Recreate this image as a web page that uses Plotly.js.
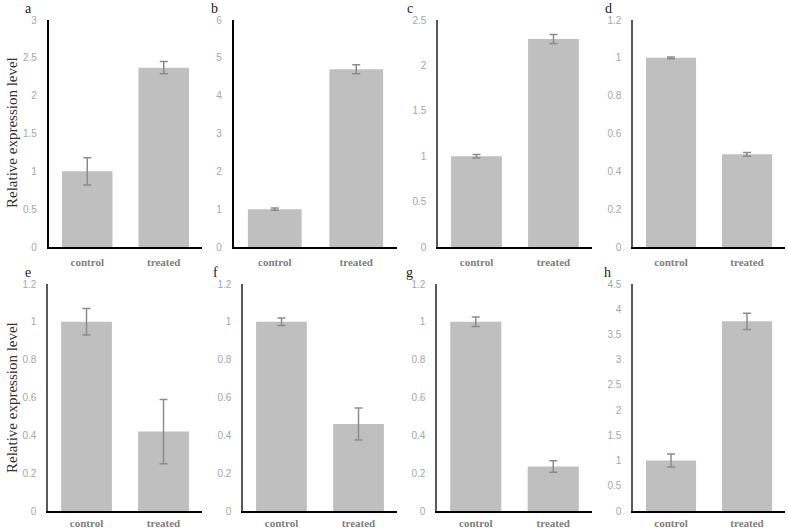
<!DOCTYPE html>
<html>
<head>
<meta charset="utf-8">
<script src="https://cdn.plot.ly/plotly-3.0.1.min.js"></script>
<style>html,body{margin:0;padding:0;background:#fff;}#chart{width:787px;height:532px;}</style>
</head>
<body>
<div id="chart"></div>
<script>
const categories = ['control', 'treated'];
const panelLetters = ['a', 'b', 'c', 'd', 'e', 'f', 'g', 'h'];
const meanValues = [
  [1.0, 2.37],
  [1.0, 4.70],
  [1.0, 2.29],
  [1.0, 0.49],
  [1.0, 0.42],
  [1.0, 0.46],
  [1.0, 0.235],
  [1.0, 3.76]
];
const errorValues = [
  [0.18, 0.08],
  [0.03, 0.12],
  [0.02, 0.05],
  [0.005, 0.01],
  [0.07, 0.17],
  [0.02, 0.085],
  [0.025, 0.03],
  [0.13, 0.16]
];
const yMax = [3, 6, 2.5, 1.2, 1.2, 1.2, 1.2, 4.5];
const yStep = [0.5, 1, 0.5, 0.2, 0.2, 0.2, 0.2, 0.5];
const yTitle = 'Relative expression level';

const SERIF = '"Liberation Serif", "DejaVu Serif", "Times New Roman", serif';
const SANS = '"Liberation Sans", "DejaVu Sans", Arial, sans-serif';

const W = 787, H = 532;
// pixel geometry
const xPix = [[49, 202], [234, 397], [438, 592], [633, 785], [48, 202], [243, 397], [437, 592], [633, 785]];
const yPix = [[20, 247], [20, 247], [20, 247], [20, 247], [284, 511], [284, 511], [284, 511], [284, 511]];
const letterPos = [[28, 8], [214, 8], [410, 8], [608, 8], [28, 272], [215, 272], [409, 272], [607, 272]];
const xTickLen = [4, 4, 4, 4, 1, 1, 1, 1];

const data = [];
const layout = {
  width: W, height: H,
  margin: {l: 0, r: 0, t: 0, b: 0},
  paper_bgcolor: '#ffffff', plot_bgcolor: 'rgba(0,0,0,0)',
  showlegend: false,
  bargap: 0.34,
  annotations: []
};

for (let i = 0; i < 8; i++) {
  const n = i === 0 ? '' : String(i + 1);
  data.push({
    type: 'bar',
    x: categories,
    y: meanValues[i],
    xaxis: 'x' + n,
    yaxis: 'y' + n,
    marker: {color: '#bfbfbf', line: {width: 0}},
    error_y: {type: 'data', array: errorValues[i], visible: true, color: '#8c8c8c', thickness: 1.5, width: 4},
    hoverinfo: 'none'
  });
  const thick = i < 2;
  layout['xaxis' + n] = {
    domain: [xPix[i][0] / W, xPix[i][1] / W],
    anchor: 'y' + n,
    range: [-0.5, 1.5],
    showline: true, linecolor: '#000000', linewidth: thick ? 2.2 : 1.6,
    showgrid: false, zeroline: false,
    ticks: 'outside', ticklen: xTickLen[i], tickcolor: 'rgba(0,0,0,0)',
    tickfont: {family: SERIF, size: 11, color: '#808080', weight: 'bold'},
    fixedrange: true
  };
  layout['yaxis' + n] = {
    domain: [1 - yPix[i][1] / H, 1 - yPix[i][0] / H],
    anchor: 'x' + n,
    range: [0, yMax[i]],
    dtick: yStep[i], tick0: 0,
    showline: true, linecolor: thick ? '#000000' : '#595959', linewidth: thick ? 2.2 : 1.6,
    showgrid: false, zeroline: false,
    ticks: 'outside', ticklen: 8, tickcolor: 'rgba(0,0,0,0)',
    tickfont: {family: SANS, size: 10, color: '#a6a6a6'},
    fixedrange: true
  };
  layout.annotations.push({
    text: panelLetters[i], xref: 'paper', yref: 'paper',
    x: letterPos[i][0] / W, y: 1 - letterPos[i][1] / H,
    xanchor: 'center', yanchor: 'middle', showarrow: false,
    font: {family: SERIF, size: 14, color: '#222222'}
  });
}
layout.annotations.push({
  text: yTitle, xref: 'paper', yref: 'paper', x: 12 / W, y: 1 - 133 / H,
  xanchor: 'center', yanchor: 'middle', textangle: -90, showarrow: false,
  font: {family: SERIF, size: 15, color: '#333333'}
});
layout.annotations.push({
  text: yTitle, xref: 'paper', yref: 'paper', x: 12 / W, y: 1 - 398 / H,
  xanchor: 'center', yanchor: 'middle', textangle: -90, showarrow: false,
  font: {family: SERIF, size: 15, color: '#333333'}
});

Plotly.newPlot('chart', data, layout, {displayModeBar: false, staticPlot: true});
</script>
</body>
</html>
